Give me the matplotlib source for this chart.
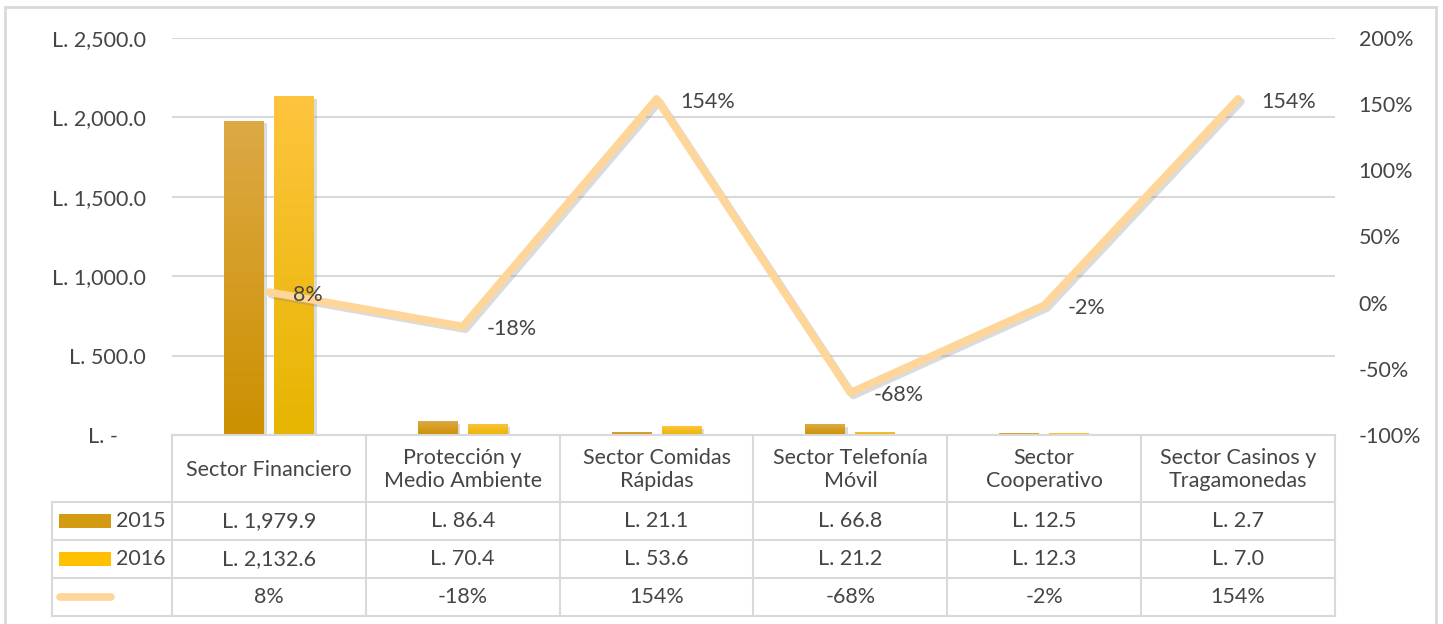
import numpy as np
import matplotlib
matplotlib.use("Agg")
from matplotlib import pyplot as plt
from matplotlib import patheffects as pe
from matplotlib.patches import Rectangle
from matplotlib.lines import Line2D
from matplotlib.ticker import FuncFormatter, PercentFormatter
import matplotlib.transforms as mtransforms

# data
sectors = ["Sector Financiero", "Protección y\nMedio Ambiente", "Sector Comidas\nRápidas",
           "Sector Telefonía\nMóvil", "Sector\nCooperativo", "Sector Casinos y\nTragamonedas"]
v2015 = [1979.9, 86.4, 21.1, 66.8, 12.5, 2.7]
v2016 = [2132.6, 70.4, 53.6, 21.2, 12.3, 7.0]
growth = [8, -18, 154, -68, -2, 154]

plt.rcParams['font.family'] = ['Lato', 'DejaVu Sans']
plt.rcParams['axes.unicode_minus'] = False
fs = 15.5
plt.rcParams['font.size'] = fs
txt = '#454545'
grid = '#D9D9D9'
peach = '#FFD699'

W, H = 1443, 624
fig = plt.figure(figsize=(W / 100, H / 100), dpi=100)
left, right, top, bottom = 172, 1335, 38, 435
ax = fig.add_axes([left / W, 1 - bottom / H, (right - left) / W, (bottom - top) / H])
ax2 = ax.twinx()

# outer frame
fig.patches.append(Rectangle((5 / W, -0.05), 1431 / W, 1 - 7 / H + 0.05, transform=fig.transFigure,
                             fill=False, edgecolor=grid, lw=2, zorder=0))

x = np.arange(len(sectors))
bw, off = 0.206, 0.129

def grad_bars(xs, vals, c_top, c_bot):
    bars = ax.bar(xs, vals, bw, color=c_bot, zorder=2,
                  path_effects=[pe.SimplePatchShadow(offset=(2, -2), shadow_rgbFace='#999999', alpha=0.35),
                                pe.Normal()])
    cmap = matplotlib.colors.LinearSegmentedColormap.from_list('g', [c_bot, c_top])
    for b in bars:
        x0, w, h = b.get_x(), b.get_width(), b.get_height()
        im = ax.imshow(np.linspace(0, 1, 100).reshape(-1, 1), cmap=cmap, origin='lower',
                       extent=(x0, x0 + w, 0, h), aspect='auto', zorder=2.1)
        im.set_clip_path(b)
    return bars

grad_bars(x - off, v2015, '#DDA945', '#CC9000')
grad_bars(x + off, v2016, '#FFC43E', '#E6B500')

ax.set_xlim(-0.5, len(sectors) - 0.5)
ax.set_ylim(0, 2500)
ax.set_yticks(np.arange(0, 2501, 500))
ax.yaxis.set_major_formatter(FuncFormatter(lambda v, p: 'L. -     ' if v == 0 else f'L. {v:,.1f}'))
ax.grid(axis='y', color=grid, lw=1.5, zorder=0)
ax.set_axisbelow(True)
ax.set_xticks([])
ax.tick_params(axis='y', length=0, pad=19, colors=txt, labelsize=fs)
for s in ax.spines.values():
    s.set_visible(False)

ax2.set_ylim(-100, 200)
ax2.set_yticks(np.arange(-100, 201, 50))
ax2.yaxis.set_major_formatter(PercentFormatter(decimals=0))
ax2.tick_params(axis='y', length=0, pad=17, colors=txt, labelsize=fs)
for s in ax2.spines.values():
    s.set_visible(False)

ax2.plot(x, growth, color=peach, lw=5.5, solid_capstyle='round', solid_joinstyle='round', zorder=3,
         path_effects=[pe.SimpleLineShadow(offset=(2, -2), shadow_color='#888888', alpha=0.3), pe.Normal()])
for xi, g in zip(x, growth):
    ax2.annotate(f'{g}%', (xi, g), xytext=(17, -2), textcoords='offset points',
                 ha='left', va='center', color=txt, fontsize=fs)

# data table
px = (bottom - top)  # axes height in px
def ay(p):
    return (bottom - p) / px

tr = mtransforms.blended_transform_factory(ax.transData, ax.transAxes)
rows = [435, 502, 540, 578, 616]
bounds = np.arange(-0.5, len(sectors), 1.0)
xl = -0.5 - (left - 52) / ((right - left) / len(sectors))
lk = dict(color=grid, lw=1.5, transform=tr, clip_on=False)
# horizontal
fig.add_artist(Line2D([-0.5, 5.5], [ay(rows[0])] * 2, **lk))
for r in rows[1:]:
    fig.add_artist(Line2D([xl, 5.5], [ay(r)] * 2, **lk))
# vertical
for b in bounds:
    fig.add_artist(Line2D([b, b], [ay(rows[0]), ay(rows[-1])], **lk))
fig.add_artist(Line2D([xl, xl], [ay(rows[1]), ay(rows[-1])], **lk))

for i, s in enumerate(sectors):
    ax.text(i, ay((rows[0] + rows[1]) / 2 + 1), s, transform=tr, ha='center', va='center',
            color=txt, linespacing=1.2, clip_on=False)
    ax.text(i, ay((rows[1] + rows[2]) / 2), f'L. {v2015[i]:,.1f}', transform=tr, ha='center',
            va='center', color=txt, clip_on=False)
    ax.text(i, ay((rows[2] + rows[3]) / 2), f'L. {v2016[i]:,.1f}', transform=tr, ha='center',
            va='center', color=txt, clip_on=False)
    ax.text(i, ay((rows[3] + rows[4]) / 2), f'{growth[i]}%', transform=tr, ha='center',
            va='center', color=txt, clip_on=False)

# legend keys in table
ft = fig.transFigure
for (r0, r1), c, lab in [((rows[1], rows[2]), '#D49B12', '2015'), ((rows[2], rows[3]), '#FFC000', '2016')]:
    yc = (r0 + r1) / 2
    fig.patches.append(Rectangle((59 / W, 1 - (yc + 7) / H), 52 / W, 14 / H, transform=ft,
                                 facecolor=c, edgecolor='none'))
    fig.text(116 / W, 1 - yc / H, lab, ha='left', va='center', color=txt, fontsize=fs)
yc = (rows[3] + rows[4]) / 2
fig.add_artist(Line2D([60 / W, 111 / W], [1 - yc / H] * 2, transform=ft, color=peach, lw=5.5,
                      solid_capstyle='round'))

fig.savefig('out.png', dpi=100)
